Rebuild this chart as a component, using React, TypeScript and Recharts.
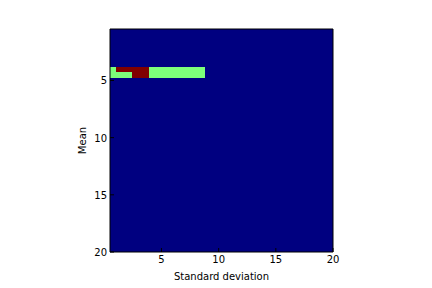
import { ScatterChart, XAxis, YAxis, ReferenceArea } from 'recharts'

const stdTicks = [5, 10, 15, 20]
const meanTicks = [5, 10, 15, 20]
const stdDomain = [0.5, 20]
const meanDomain = [0.5, 20]

// non-background cells of the image (std from/to, mean from/to, colour level 0..1)
const cellStdFrom = [0.5, 1.0, 3.9, 0.5, 2.4, 3.9]
const cellStdTo = [1.0, 3.9, 8.8, 2.4, 3.9, 8.8]
const cellMeanFrom = [3.8, 3.8, 3.8, 4.3, 4.3, 4.3]
const cellMeanTo = [4.3, 4.3, 4.3, 4.8, 4.8, 4.8]
const cellLevel = [0.5, 1, 0.5, 0.5, 1, 0.5]

const jet: Record<number, string> = { 0: '#000080', 0.5: '#7dff7a', 1: '#800000' }

const font = { fontFamily: 'DejaVu Sans', fontSize: 10, fill: '#000' }

function XTick({ x, y, payload }: any) {
    return (
        <g>
            <line x1={x} x2={x} y1={y - 3} y2={y - 7} stroke="#000" />
            <text x={x} y={y + 8} textAnchor="middle" {...font}>{payload.value}</text>
        </g>
    )
}

function YTick({ x, y, payload }: any) {
    return (
        <g>
            <line x1={x + 3} x2={x + 7} y1={y} y2={y} stroke="#000" />
            <text x={x} y={y + 4} textAnchor="end" {...font}>{payload.value}</text>
        </g>
    )
}

export default function App() {
    return (
        <div style={{ position: 'absolute', left: 0, top: 0, background: '#fff' }}>
            <ScatterChart width={432} height={288} margin={{ top: 29, right: 99, left: 0, bottom: 0 }}>
                <XAxis
                    type="number"
                    dataKey="x"
                    domain={stdDomain}
                    ticks={stdTicks}
                    allowDataOverflow
                    height={36}
                    axisLine={false}
                    tickLine={false}
                    tickSize={0}
                    tickMargin={3}
                    tick={<XTick />}
                    label={{ value: 'Standard deviation', position: 'insideBottom', offset: 8, ...font }}
                />
                <YAxis
                    type="number"
                    dataKey="y"
                    domain={meanDomain}
                    ticks={meanTicks}
                    reversed
                    allowDataOverflow
                    width={110}
                    axisLine={false}
                    tickLine={false}
                    tickSize={0}
                    tickMargin={3}
                    tick={<YTick />}
                    label={{
                        content: ({ viewBox }: any) => {
                            const cx = 82
                            const cy = viewBox.y + viewBox.height / 2
                            return (
                                <text x={cx} y={cy} textAnchor="middle" dominantBaseline="central"
                                    transform={`rotate(-90, ${cx}, ${cy})`} {...font}>Mean</text>
                            )
                        },
                    }}
                />
                <ReferenceArea x1={stdDomain[0]} x2={stdDomain[1]} y1={meanDomain[0]} y2={meanDomain[1]}
                    fill={jet[0]} fillOpacity={1} stroke="none" shapeRendering="crispEdges" />
                {cellLevel.map((lv, i) => (
                    <ReferenceArea key={i} x1={cellStdFrom[i]} x2={cellStdTo[i]} y1={cellMeanFrom[i]} y2={cellMeanTo[i]}
                        fill={jet[lv]} fillOpacity={1} stroke="none" shapeRendering="crispEdges" />
                ))}
                <ReferenceArea x1={stdDomain[0]} x2={stdDomain[1]} y1={meanDomain[0]} y2={meanDomain[1]}
                    fill="none" stroke="#000" strokeWidth={1} />
            </ScatterChart>
        </div>
    )
}
